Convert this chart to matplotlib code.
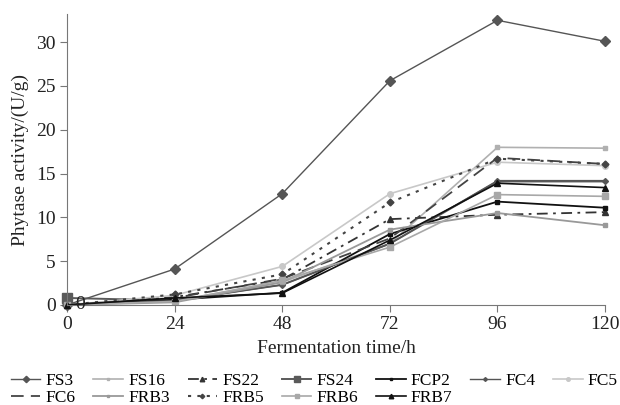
import matplotlib
matplotlib.use("Agg")
import matplotlib.pyplot as plt

plt.rcParams['font.family'] = ['Liberation Serif', 'DejaVu Serif']

hours = [0, 24, 48, 72, 96, 120]

fs3 = [0.0, 4.1, 12.7, 25.6, 32.5, 30.1]
fs16 = [0.0, 0.5, 2.6, 7.0, 18.0, 17.9]
fs22 = [0.0, 0.9, 2.9, 9.8, 10.3, 10.6]
fs24 = [0.8, 0.5, 2.3, 7.0, 14.1, 14.1]
fcp2 = [0.0, 0.6, 1.4, 8.1, 11.8, 11.1]
fc4 = [0.0, 0.5, 2.3, 7.0, 14.2, 14.2]
fc5 = [0.0, 1.1, 4.4, 12.7, 16.3, 15.9]
fc6 = [0.0, 0.8, 3.0, 7.6, 16.8, 16.1]
frb3 = [0.0, 0.3, 2.6, 8.6, 10.5, 9.1]
frb5 = [0.0, 1.2, 3.5, 11.7, 16.7, 16.1]
frb6 = [0.0, 0.4, 2.8, 6.6, 12.6, 12.4]
frb7 = [0.0, 0.8, 1.35, 7.4, 13.9, 13.4]

series = [
    ("FS3", fs3, dict(color="#555555", ls="-", marker="D", ms=5, lw=1.0)),
    ("FS16", fs16, dict(color="#b0b0b0", ls="-", marker="s", ms=2.5, lw=1.2)),
    ("FS22", fs22, dict(color="#333333", ls=(0, (6, 3, 1.5, 3)), marker="^", ms=5, lw=1.3)),
    ("FS24", fs24, dict(color="#5a5a5a", ls="-", marker="s", ms=6.5, lw=1.4, markevery=[0])),
    ("FCP2", fcp2, dict(color="#111111", ls="-", marker="s", ms=3, lw=1.3)),
    ("FC4", fc4, dict(color="#555555", ls="-", marker="D", ms=3, lw=1.0)),
    ("FC5", fc5, dict(color="#c8c8c8", ls="-", marker="o", ms=4, lw=1.2)),
    ("FC6", fc6, dict(color="#444444", ls=(0, (7, 4)), marker=None, lw=1.3)),
    ("FRB3", frb3, dict(color="#999999", ls="-", marker="s", ms=2.5, lw=1.3)),
    ("FRB5", frb5, dict(color="#444444", ls=(0, (1.5, 3)), marker="D", ms=3.5, lw=1.5)),
    ("FRB6", frb6, dict(color="#a8a8a8", ls="-", marker="s", ms=4.5, lw=1.2)),
    ("FRB7", frb7, dict(color="#111111", ls="-", marker="^", ms=5, lw=1.2)),
]

fig = plt.figure(figsize=(6.2, 4.05), dpi=100)
ax = fig.add_axes([0.108, 0.247, 0.868, 0.718])

lines = {}
for name, vals, style in series:
    lines[name], = ax.plot(hours, vals, label=name, clip_on=False, **style)

ax.set_xlim(0, 120)
ax.set_ylim(0, 33.2)
ax.set_xticks(hours)
ax.set_yticks([0, 5, 10, 15, 20, 25, 30])
for side in ["top", "right"]:
    ax.spines[side].set_visible(False)
for side in ["left", "bottom"]:
    ax.spines[side].set_color("#777777")
ax.tick_params(colors="#777777", labelcolor="#222222", labelsize=14, length=5)
ax.tick_params(axis="x", pad=3)
ax.tick_params(axis="y", pad=3)

ax.set_xlabel("Fermentation time/h", fontsize=14, color="#222222", labelpad=5)
ax.set_ylabel("Phytase activity/(U/g)", fontsize=14, color="#222222", labelpad=5)

# stray "0" near origin in the original
ax.text(1.8, 0.0, "0", fontsize=14, color="#222222", va="center", ha="left")

# matplotlib fills legend column by column; order so rows read left to right
order = ["FS3", "FC6", "FS16", "FRB3", "FS22", "FRB5", "FS24", "FRB6",
         "FCP2", "FRB7", "FC4", "FC5"]
fig.legend([lines[n] for n in order], order, loc="lower left",
           bbox_to_anchor=(0.012, -0.012, 0.99, 0.1), mode="expand", ncol=7,
           frameon=False, fontsize=12.5, handlelength=1.7, columnspacing=0.8,
           handletextpad=0.3, labelspacing=0.05, borderaxespad=0.1,
           borderpad=0.1, markerscale=0.65)

fig.savefig("out.png", dpi=100)
